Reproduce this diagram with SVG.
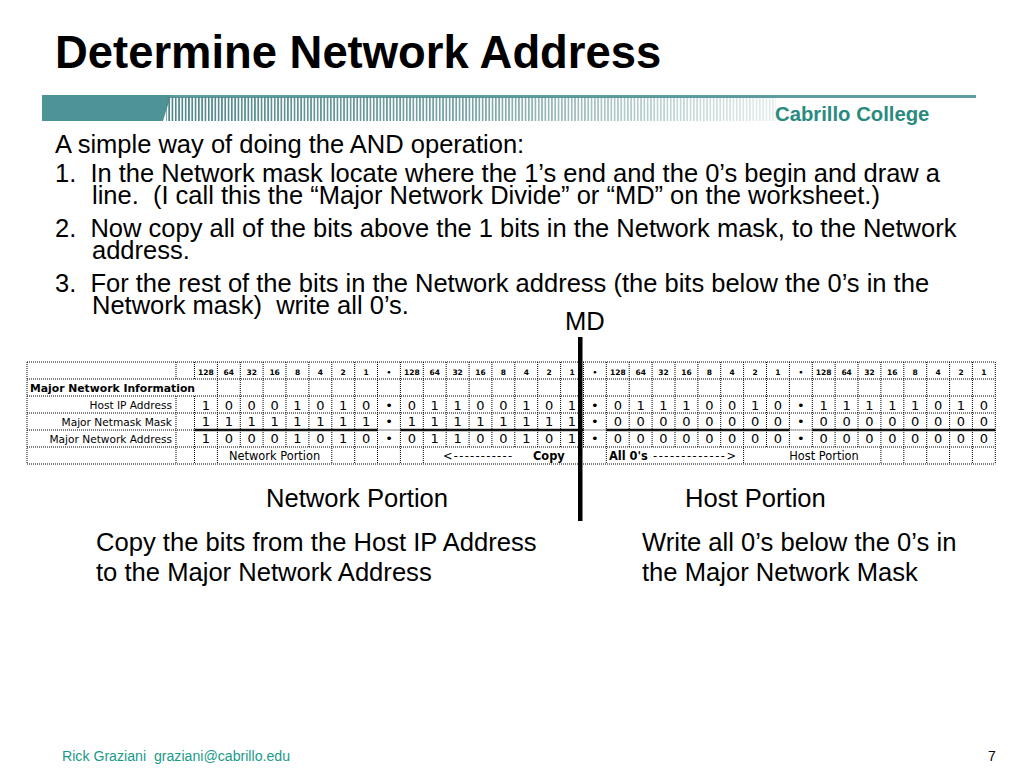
<svg xmlns="http://www.w3.org/2000/svg" width="1024" height="768" viewBox="0 0 1024 768">
<style>
.title{font-family:"Liberation Sans",Arial,sans-serif;font-weight:bold;font-size:45.4px;fill:#000}
.body{font-family:"Liberation Sans",Arial,sans-serif;font-size:25.5px;fill:#000;white-space:pre}
.cap{font-family:"Liberation Sans",Arial,sans-serif;font-size:25.6px;fill:#000}
.t{font-family:"DejaVu Sans",Verdana,sans-serif;fill:#000}
.hd{font-size:7.5px;font-weight:bold;text-anchor:middle}
.lb{font-size:10.6px;text-anchor:end}
.dg{font-size:13px;text-anchor:middle}
.pt{font-size:11.4px}
.dot{fill:none;stroke:#000;stroke-width:1;stroke-dasharray:1 1}
.thick{fill:none;stroke:#111;stroke-width:2.5}
</style>
<defs>
<pattern id="stripes" x="0" y="0" width="3.3" height="10" patternUnits="userSpaceOnUse">
<rect x="0" y="0" width="1.7" height="10" fill="#4f8688"/>
</pattern>
<linearGradient id="fade" x1="166" y1="0" x2="775" y2="0" gradientUnits="userSpaceOnUse">
<stop offset="0" stop-color="#fff" stop-opacity="1"/>
<stop offset="0.5" stop-color="#fff" stop-opacity="0.75"/>
<stop offset="1" stop-color="#fff" stop-opacity="0.15"/>
</linearGradient>
<mask id="fmask" maskUnits="userSpaceOnUse" x="0" y="0" width="1024" height="768">
<rect x="166" y="97" width="610" height="25" fill="url(#fade)"/>
</mask>
</defs>
<rect width="1024" height="768" fill="#fff"/>

<g id="header">
<text class="title" x="55" y="68">Determine Network Address</text>
<rect x="42" y="95" width="934" height="3" fill="#5c9c9e"/>
<polygon points="42,95 171,95 163,121 42,121" fill="#4e9496"/>
<rect x="166" y="97" width="610" height="24" fill="url(#stripes)" mask="url(#fmask)"/>
<text x="775" y="121" font-family="Liberation Sans,Arial,sans-serif" font-weight="bold" font-size="20.3" fill="#2a8a80">Cabrillo College</text>
</g>

<g id="instructions">
<text class="body" x="55" y="153" xml:space="preserve">A simple way of doing the AND operation:</text>
<text class="body" x="55" y="182" xml:space="preserve">1.  In the Network mask locate where the 1’s end and the 0’s begin and draw a<tspan x="92" y="204">line.  (I call this the “Major Network Divide” or “MD” on the worksheet.)</tspan></text>
<text class="body" x="55" y="237" xml:space="preserve">2.  Now copy all of the bits above the 1 bits in the Network mask, to the Network<tspan x="92" y="259">address.</tspan></text>
<text class="body" x="55" y="292" xml:space="preserve">3.  For the rest of the bits in the Network address (the bits below the 0’s in the<tspan x="92" y="314">Network mask)  write all 0’s.</tspan></text>
</g>

<g id="table">
<g id="grid">
<path class="dot" d="M27,362H995.3M27,379H995.3M27,396H995.3M27,413H995.3M27,447H995.3M27,464H995.3M27,430H194.5M377.5,430H400.4M583.5,430H606.3M789.4,430H812.3"/>
<path class="thick" d="M194.5,430H377.5M400.4,430H583.5M606.3,430H789.4M812.3,430H995.3"/>
<path class="dot" d="M27,362V464M217.4,362V464M331.8,362V464M354.7,362V464M377.5,362V464M400.4,362V464M423.3,362V464M606.3,362V464M743.6,362V464M880.9,362V464M903.8,362V464M926.7,362V464M949.6,362V464M972.4,362V464M995.3,362V464
M240.3,362V447M263.1,362V447M286,362V447M308.9,362V447M446.2,362V447M469.1,362V447M491.9,362V447M514.8,362V447M537.7,362V447M560.6,362V447M583.5,362V447M629.2,362V447M652.1,362V447M675,362V447M697.9,362V447M720.7,362V447M766.5,362V447M789.4,362V447M812.3,362V447M835.1,362V447M858,362V447
M176,362V379M194.5,362V379M176,396V464M194.5,396V464"/>
</g>

<g id="bitweights" class="t hd">
<text x="205.9" y="375">128</text><text x="228.8" y="375">64</text><text x="251.7" y="375">32</text><text x="274.6" y="375">16</text><text x="297.5" y="375">8</text><text x="320.3" y="375">4</text><text x="343.2" y="375">2</text><text x="366.1" y="375">1</text><text x="389" y="375">•</text>
<text x="411.9" y="375">128</text><text x="434.7" y="375">64</text><text x="457.6" y="375">32</text><text x="480.5" y="375">16</text><text x="503.4" y="375">8</text><text x="526.3" y="375">4</text><text x="549.1" y="375">2</text><text x="572" y="375">1</text><text x="594.9" y="375">•</text>
<text x="617.8" y="375">128</text><text x="640.7" y="375">64</text><text x="663.5" y="375">32</text><text x="686.4" y="375">16</text><text x="709.3" y="375">8</text><text x="732.2" y="375">4</text><text x="755.1" y="375">2</text><text x="777.9" y="375">1</text><text x="800.8" y="375">•</text>
<text x="823.7" y="375">128</text><text x="846.6" y="375">64</text><text x="869.5" y="375">32</text><text x="892.3" y="375">16</text><text x="915.2" y="375">8</text><text x="938.1" y="375">4</text><text x="961" y="375">2</text><text x="983.9" y="375">1</text>
</g>

<g id="labels" class="t">
<text x="30" y="392" font-size="10.8" font-weight="bold">Major Network Information</text>
<text class="lb" x="172" y="409">Host IP Address</text>
<text class="lb" x="172" y="426">Major Netmask Mask</text>
<text class="lb" x="172" y="443">Major Network Address</text>
</g>

<g id="row-host" class="t dg">
<text x="205.9" y="410">1</text><text x="228.8" y="410">0</text><text x="251.7" y="410">0</text><text x="274.6" y="410">0</text><text x="297.5" y="410">1</text><text x="320.3" y="410">0</text><text x="343.2" y="410">1</text><text x="366.1" y="410">0</text><text x="389" y="410">•</text>
<text x="411.9" y="410">0</text><text x="434.7" y="410">1</text><text x="457.6" y="410">1</text><text x="480.5" y="410">0</text><text x="503.4" y="410">0</text><text x="526.3" y="410">1</text><text x="549.1" y="410">0</text><text x="572" y="410">1</text><text x="594.9" y="410">•</text>
<text x="617.8" y="410">0</text><text x="640.7" y="410">1</text><text x="663.5" y="410">1</text><text x="686.4" y="410">1</text><text x="709.3" y="410">0</text><text x="732.2" y="410">0</text><text x="755.1" y="410">1</text><text x="777.9" y="410">0</text><text x="800.8" y="410">•</text>
<text x="823.7" y="410">1</text><text x="846.6" y="410">1</text><text x="869.5" y="410">1</text><text x="892.3" y="410">1</text><text x="915.2" y="410">1</text><text x="938.1" y="410">0</text><text x="961" y="410">1</text><text x="983.9" y="410">0</text>
</g>

<g id="row-mask" class="t dg">
<text x="205.9" y="426">1</text><text x="228.8" y="426">1</text><text x="251.7" y="426">1</text><text x="274.6" y="426">1</text><text x="297.5" y="426">1</text><text x="320.3" y="426">1</text><text x="343.2" y="426">1</text><text x="366.1" y="426">1</text><text x="389" y="426">•</text>
<text x="411.9" y="426">1</text><text x="434.7" y="426">1</text><text x="457.6" y="426">1</text><text x="480.5" y="426">1</text><text x="503.4" y="426">1</text><text x="526.3" y="426">1</text><text x="549.1" y="426">1</text><text x="572" y="426">1</text><text x="594.9" y="426">•</text>
<text x="617.8" y="426">0</text><text x="640.7" y="426">0</text><text x="663.5" y="426">0</text><text x="686.4" y="426">0</text><text x="709.3" y="426">0</text><text x="732.2" y="426">0</text><text x="755.1" y="426">0</text><text x="777.9" y="426">0</text><text x="800.8" y="426">•</text>
<text x="823.7" y="426">0</text><text x="846.6" y="426">0</text><text x="869.5" y="426">0</text><text x="892.3" y="426">0</text><text x="915.2" y="426">0</text><text x="938.1" y="426">0</text><text x="961" y="426">0</text><text x="983.9" y="426">0</text>
</g>

<g id="row-address" class="t dg">
<text x="205.9" y="443">1</text><text x="228.8" y="443">0</text><text x="251.7" y="443">0</text><text x="274.6" y="443">0</text><text x="297.5" y="443">1</text><text x="320.3" y="443">0</text><text x="343.2" y="443">1</text><text x="366.1" y="443">0</text><text x="389" y="443">•</text>
<text x="411.9" y="443">0</text><text x="434.7" y="443">1</text><text x="457.6" y="443">1</text><text x="480.5" y="443">0</text><text x="503.4" y="443">0</text><text x="526.3" y="443">1</text><text x="549.1" y="443">0</text><text x="572" y="443">1</text><text x="594.9" y="443">•</text>
<text x="617.8" y="443">0</text><text x="640.7" y="443">0</text><text x="663.5" y="443">0</text><text x="686.4" y="443">0</text><text x="709.3" y="443">0</text><text x="732.2" y="443">0</text><text x="755.1" y="443">0</text><text x="777.9" y="443">0</text><text x="800.8" y="443">•</text>
<text x="823.7" y="443">0</text><text x="846.6" y="443">0</text><text x="869.5" y="443">0</text><text x="892.3" y="443">0</text><text x="915.2" y="443">0</text><text x="938.1" y="443">0</text><text x="961" y="443">0</text><text x="983.9" y="443">0</text>
</g>

<g id="row-portion" class="t pt">
<text x="274.6" y="460" text-anchor="middle">Network Portion</text>
<text x="443" y="460" textLength="69" lengthAdjust="spacing">&lt;-----------</text>
<text x="533" y="460" font-weight="bold">Copy</text>
<text x="609" y="460" font-weight="bold">All 0's</text>
<text x="653" y="460" textLength="83" lengthAdjust="spacing">-------------&gt;</text>
<text x="824" y="460" text-anchor="middle">Host Portion</text>
</g>
</g>

<g id="md-divide">
<rect x="578" y="337" width="4.5" height="184" fill="#000"/>
<text class="cap" x="565" y="330">MD</text>
</g>

<g id="captions">
<text class="cap" x="266" y="507">Network Portion</text>
<text class="cap" x="685" y="507">Host Portion</text>
<text class="cap" x="96" y="551">Copy the bits from the Host IP Address</text>
<text class="cap" x="96" y="581">to the Major Network Address</text>
<text class="cap" x="642" y="551">Write all 0’s below the 0’s in</text>
<text class="cap" x="642" y="581">the Major Network Mask</text>
</g>

<g id="footer">
<text x="62" y="761" font-family="Liberation Sans,Arial,sans-serif" font-size="14" fill="#1a9a8a" textLength="228" lengthAdjust="spacingAndGlyphs" xml:space="preserve" style="white-space:pre">Rick Graziani  graziani@cabrillo.edu</text>
<text x="988" y="761" font-family="Liberation Sans,Arial,sans-serif" font-size="14" fill="#000">7</text>
</g>
</svg>
